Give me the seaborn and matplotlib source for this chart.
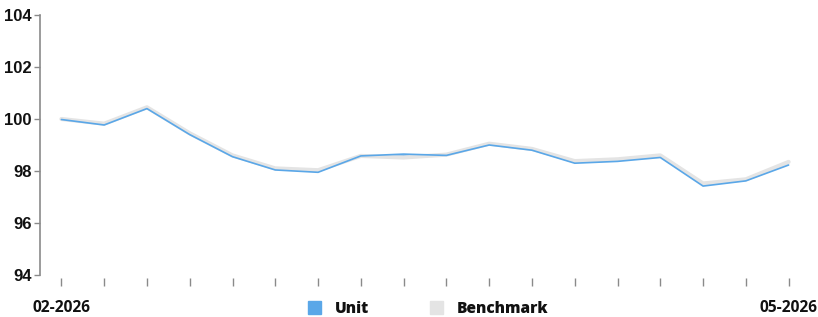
import numpy as np
import pandas as pd
import matplotlib
matplotlib.use("Agg")
import matplotlib.pyplot as plt
import matplotlib.patches as mpatches
from matplotlib.font_manager import FontProperties
import seaborn as sns

# ---- data ----
periods = list(range(18))
tick_labels = ["02-2026"] + [""] * 16 + ["05-2026"]
unit = [99.98, 99.77, 100.40, 99.40, 98.55, 98.04, 97.95, 98.58, 98.65, 98.60,
        99.00, 98.80, 98.30, 98.37, 98.52, 97.42, 97.62, 98.23]
benchmark = [100.0, 99.82, 100.45, 99.45, 98.60, 98.10, 98.03, 98.58, 98.52, 98.63,
             99.05, 98.85, 98.38, 98.45, 98.60, 97.52, 97.68, 98.35]
series_names = ["Unit", "Benchmark"]
yticks = [94, 96, 98, 100, 102, 104]

BLUE = "#5aa7e8"
GREY = "#e4e4e4"

sns.set_theme(style="white")
plt.rcParams['font.family'] = ['Liberation Sans', 'DejaVu Sans']

label_font = FontProperties(family=["Open Sans", "DejaVu Sans"], weight="bold", size=11.2)
legend_font = FontProperties(family=["Open Sans", "DejaVu Sans"], weight="heavy", size=11.2)

df = pd.DataFrame({"period": periods * 2,
                   "value": unit + benchmark,
                   "series": [series_names[0]] * 18 + [series_names[1]] * 18})

fig = plt.figure(figsize=(8.18, 3.17), dpi=100)
ax = fig.add_axes([40 / 818, 1 - 275 / 317, 770 / 818, 260 / 317])

u = np.array(unit)
b = np.array(benchmark)
ax.fill_between(periods, u, b, where=u >= b, interpolate=True, color=BLUE, lw=0, zorder=1)
ax.fill_between(periods, u, b, where=b >= u, interpolate=True, color=GREY, lw=0, zorder=1)
sns.lineplot(data=df[df.series == "Benchmark"], x="period", y="value", color=GREY,
             linewidth=3.0, ax=ax, zorder=2, legend=False)
sns.lineplot(data=df[df.series == "Unit"], x="period", y="value", color=BLUE,
             linewidth=1.2, ax=ax, zorder=3, legend=False)

for s in ["top", "right"]:
    ax.spines[s].set_visible(False)
ax.spines["bottom"].set_position(("outward", 2))
ax.spines["bottom"].set_color("none")
ax.spines["left"].set_color("#8a8a8a")
ax.spines["left"].set_linewidth(1.2)
ax.grid(False)

ax.set_xlim(-0.5, 17.5)
ax.set_ylim(94, 104)
ax.set_yticks(yticks)
ax.set_yticklabels([str(t) for t in yticks], fontsize=12, fontweight="bold", color="#111111")
ax.set_xticks(periods)
ax.set_xticklabels(tick_labels, fontproperties=label_font, color="#111111")
ax.set_xlabel("")
ax.set_ylabel("")
ax.tick_params(axis="y", left=True, length=4, width=1, color="#8a8a8a", pad=2)
ax.tick_params(axis="x", bottom=True, length=6, width=1, color="#8a8a8a", pad=10)

handles = [mpatches.Patch(color=BLUE, label=series_names[0]),
           mpatches.Patch(color=GREY, label=series_names[1])]
leg = fig.legend(handles=handles, loc="center", bbox_to_anchor=(428 / 818, 1 - 309 / 317),
                 ncol=2, frameon=False, handlelength=0.85, handleheight=0.85, handletextpad=0.9,
                 columnspacing=3.9, borderpad=0, prop=legend_font)
for t in leg.get_texts():
    t.set_color("#111111")

fig.savefig("out.png", dpi=100)
